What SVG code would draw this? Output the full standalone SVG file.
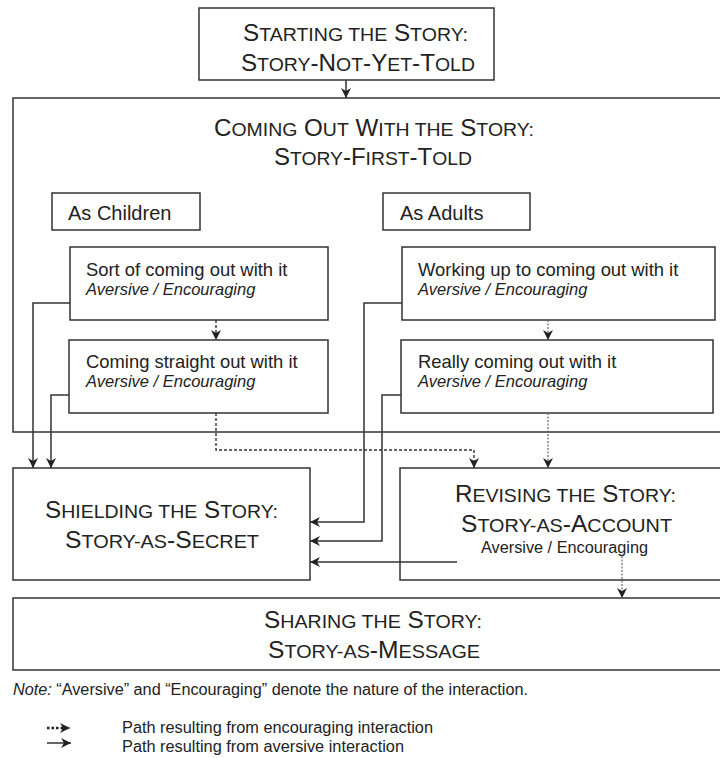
<svg xmlns="http://www.w3.org/2000/svg" width="720" height="758" viewBox="0 0 720 758">
<style>
.box{fill:#fff;stroke:#333;stroke-width:1.5}
.title{font-family:"Liberation Sans",Arial,sans-serif;font-size:23px;fill:#222}
.sc{font-size:18.5px}
.body{font-family:"Liberation Sans",Arial,sans-serif;font-size:18.4px;fill:#222}
.ital{font-family:"Liberation Sans",Arial,sans-serif;font-size:16.5px;font-style:italic;fill:#222}
.head{font-family:"Liberation Sans",Arial,sans-serif;font-size:20px;fill:#222}
.small{font-family:"Liberation Sans",Arial,sans-serif;font-size:16px;fill:#222}
.solid{fill:none;stroke:#333;stroke-width:1.5}
.dash{fill:none;stroke:#333;stroke-width:1.4;stroke-dasharray:3,2}
.dot{fill:none;stroke:#666;stroke-width:1.2;stroke-dasharray:2,1.5}
</style>
<defs>
<marker id="ah" viewBox="0 0 10 10" refX="10" refY="5" markerWidth="10" markerHeight="10" markerUnits="userSpaceOnUse" orient="auto">
<path d="M0,0 L10,5 L0,10 L3,5 z" fill="#222"/>
</marker>
</defs>
<g id="start">
<rect class="box" x="199" y="8" width="295" height="72"/>
<text class="title" x="243" y="41" textLength="225" lengthAdjust="spacingAndGlyphs">S<tspan class="sc">TARTING THE</tspan> S<tspan class="sc">TORY:</tspan></text>
<text class="title" x="241" y="71" textLength="234" lengthAdjust="spacingAndGlyphs">S<tspan class="sc">TORY</tspan>-N<tspan class="sc">OT</tspan>-Y<tspan class="sc">ET</tspan>-T<tspan class="sc">OLD</tspan></text>
</g>
<g id="comingout">
<rect class="box" x="13" y="98" width="720" height="334"/>
<text class="title" x="214" y="136" textLength="320" lengthAdjust="spacingAndGlyphs">C<tspan class="sc">OMING</tspan> O<tspan class="sc">UT</tspan> W<tspan class="sc">ITH THE</tspan> S<tspan class="sc">TORY:</tspan></text>
<text class="title" x="274" y="165" textLength="198" lengthAdjust="spacingAndGlyphs">S<tspan class="sc">TORY</tspan>-F<tspan class="sc">IRST</tspan>-T<tspan class="sc">OLD</tspan></text>
</g>
<g id="aschildren">
<rect class="box" x="52" y="193" width="148" height="37"/>
<text class="head" x="68" y="220">As Children</text>
</g>
<g id="asadults">
<rect class="box" x="383" y="193" width="147" height="37"/>
<text class="head" x="400" y="220">As Adults</text>
</g>
<g id="sortof">
<rect class="box" x="70" y="247" width="258" height="73"/>
<text class="body" x="86" y="276">Sort of coming out with it</text>
<text class="ital" x="86" y="295">Aversive / Encouraging</text>
</g>
<g id="straight">
<rect class="box" x="69" y="340" width="259" height="73"/>
<text class="body" x="86" y="368">Coming straight out with it</text>
<text class="ital" x="86" y="387">Aversive / Encouraging</text>
</g>
<g id="workingup">
<rect class="box" x="402" y="247" width="313" height="73"/>
<text class="body" x="418" y="276">Working up to coming out with it</text>
<text class="ital" x="418" y="295">Aversive / Encouraging</text>
</g>
<g id="really">
<rect class="box" x="401" y="340" width="312" height="73"/>
<text class="body" x="418" y="368">Really coming out with it</text>
<text class="ital" x="418" y="387">Aversive / Encouraging</text>
</g>
<g id="shielding">
<rect class="box" x="13" y="468" width="297" height="112"/>
<text class="title" x="45" y="518" textLength="233" lengthAdjust="spacingAndGlyphs">S<tspan class="sc">HIELDING THE</tspan> S<tspan class="sc">TORY:</tspan></text>
<text class="title" x="65" y="548" textLength="194" lengthAdjust="spacingAndGlyphs">S<tspan class="sc">TORY-AS</tspan>-S<tspan class="sc">ECRET</tspan></text>
</g>
<g id="revising">
<rect class="box" x="400" y="468" width="330" height="112"/>
<text class="title" x="455" y="502" textLength="221" lengthAdjust="spacingAndGlyphs">R<tspan class="sc">EVISING THE</tspan> S<tspan class="sc">TORY:</tspan></text>
<text class="title" x="461" y="532" textLength="211" lengthAdjust="spacingAndGlyphs">S<tspan class="sc">TORY-AS</tspan>-A<tspan class="sc">CCOUNT</tspan></text>
<text class="small" x="481" y="553" textLength="167" lengthAdjust="spacingAndGlyphs">Aversive / Encouraging</text>
</g>
<g id="sharing">
<rect class="box" x="13" y="598" width="720" height="72"/>
<text class="title" x="264" y="628" textLength="218" lengthAdjust="spacingAndGlyphs">S<tspan class="sc">HARING THE</tspan> S<tspan class="sc">TORY:</tspan></text>
<text class="title" x="268" y="658" textLength="212" lengthAdjust="spacingAndGlyphs">S<tspan class="sc">TORY-AS</tspan>-M<tspan class="sc">ESSAGE</tspan></text>
</g>
<g id="connectors">
<path class="solid" d="M346,80 V98" marker-end="url(#ah)"/>
<path class="dash" d="M216,320 V340" marker-end="url(#ah)"/>
<path class="dot" d="M548,320 V340" marker-end="url(#ah)"/>
<path class="solid" d="M70,303 H33 V468" marker-end="url(#ah)"/>
<path class="solid" d="M69,395 H51 V468" marker-end="url(#ah)"/>
<path class="solid" d="M402,303 H364 V522 H310" marker-end="url(#ah)"/>
<path class="solid" d="M401,395 H382 V541 H310" marker-end="url(#ah)"/>
<path class="solid" d="M457,562 H310" marker-end="url(#ah)"/>
<path class="dash" d="M216,413 V450 H474 V468" marker-end="url(#ah)"/>
<path class="dot" d="M548,413 V468" marker-end="url(#ah)"/>
<path class="dot" d="M622,556 V598" marker-end="url(#ah)"/>
</g>
<g id="note">
<text class="small" x="13" y="695" font-size="14.5" textLength="515" lengthAdjust="spacingAndGlyphs"><tspan font-style="italic">Note:</tspan>  “Aversive” and “Encouraging” denote the nature of the interaction.</text>
</g>
<g id="legend">
<path d="M47,728 H70" fill="none" stroke="#222" stroke-width="2.5" stroke-dasharray="2.5,2" marker-end="url(#ah)"/>
<text class="small" x="122" y="733" textLength="311" lengthAdjust="spacingAndGlyphs">Path resulting from encouraging interaction</text>
<path d="M47,743 H71" class="solid" marker-end="url(#ah)"/>
<text class="small" x="122" y="752" textLength="282" lengthAdjust="spacingAndGlyphs">Path resulting from aversive interaction</text>
</g>
</svg>
